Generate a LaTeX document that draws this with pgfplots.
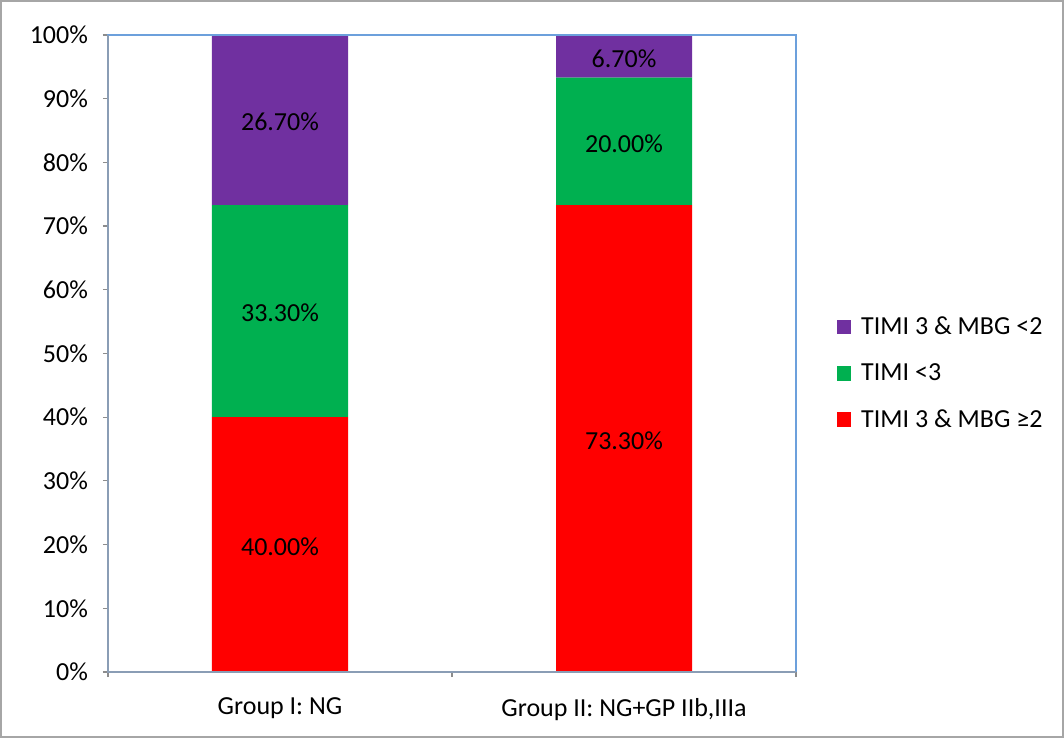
\documentclass[border=0pt]{standalone}
\usepackage{fontspec}
\setmainfont{Carlito}
\usepackage{pgfplots}
\pgfplotsset{compat=1.18}
\definecolor{cpurple}{HTML}{7030A0}
\definecolor{cgreen}{HTML}{00B050}
\definecolor{cred}{HTML}{FF0000}
\definecolor{frameblue}{HTML}{6CA0DC}
\definecolor{axisgray}{HTML}{8A9DB5}
\definecolor{tickgray}{HTML}{8C8C8C}
\definecolor{bordergray}{HTML}{A6A6A6}
\newcommand{\lblfont}{\fontsize{13}{15.6}\selectfont}
\begin{document}
\begin{tikzpicture}
\useasboundingbox (-54pt,-33pt) rectangle (478pt,336pt);
\begin{axis}[at={(0,0)}, anchor=south west, scale only axis,
  width=344pt, height=318.5pt,
  ybar stacked, bar width=68pt,
  xmin=-0.5, xmax=1.5, ymin=0, ymax=100,
  axis on top,
  xtick={0,1},
  xticklabels={Group I: NG,{Group II: NG+GP IIb,IIIa}},
  x tick style={draw=none},
  extra x ticks={-0.5,0.5,1.5},
  extra x tick labels={},
  extra x tick style={xtick style={draw=tickgray, line width=0.6pt}},
  xtick pos=bottom, ytick pos=left,
  tick align=outside, major tick length=2.5pt,
  ytick={0,10,...,100},
  yticklabel={\pgfmathprintnumber{\tick}\%},
  /pgf/number format/assume math mode=true,
  y tick style={draw=tickgray, line width=0.6pt},
  axis line style={draw=frameblue, line width=0.6pt},
  tick label style={font=\lblfont, text=black},
  xticklabel style={yshift=-7pt},
  yticklabel style={xshift=-4pt},
  legend style={at={(1.05,0.571)}, anchor=north west, draw=none, fill=none,
    font=\lblfont, row sep=9pt, legend cell align=left,
    nodes={inner xsep=5pt}},
  reverse legend,
  legend image code/.code={\fill[#1,draw=none] (0pt,-3.6pt) rectangle (7.2pt,3.6pt);},
]
\addplot[fill=cred, draw=none] coordinates {(0,40) (1,73.3)};
\addplot[fill=cgreen, draw=none] coordinates {(0,33.3) (1,20)};
\addplot[fill=cpurple, draw=none] coordinates {(0,26.7) (1,6.7)};
\legend{TIMI 3 \& MBG ≥2, TIMI <3, TIMI 3 \& MBG <2}
\coordinate (l1) at (axis cs:0,20);
\coordinate (l2) at (axis cs:0,56.65);
\coordinate (l3) at (axis cs:0,86.65);
\coordinate (l4) at (axis cs:1,36.65);
\coordinate (l5) at (axis cs:1,83.3);
\coordinate (l6) at (axis cs:1,96.65);
\coordinate (tl) at (rel axis cs:0,1);
\coordinate (bl) at (rel axis cs:0,0);
\coordinate (br) at (rel axis cs:1,0);
\end{axis}
\draw[axisgray, line width=0.6pt] (tl) -- (bl) -- (br);
\begin{scope}[every node/.style={font=\lblfont, yshift=-1pt}]
\node at (l1) {40.00\%};
\node at (l2) {33.30\%};
\node at (l3) {26.70\%};
\node at (l4) {73.30\%};
\node at (l5) {20.00\%};
\node at (l6) {6.70\%};
\end{scope}
\draw[bordergray, line width=0.75pt] (-53.6pt,-32.6pt) rectangle (477.6pt,335.6pt);
\end{tikzpicture}
\end{document}
